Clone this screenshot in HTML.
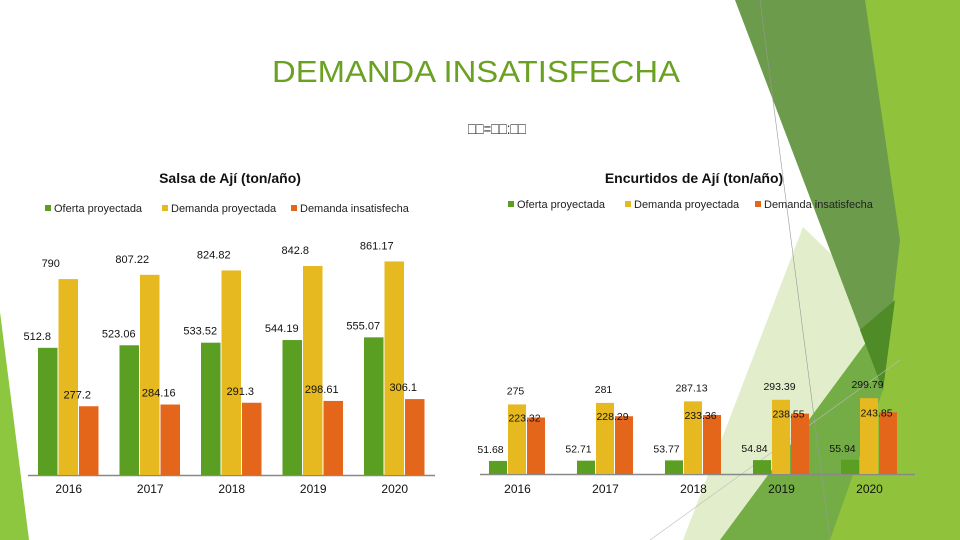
<!DOCTYPE html>
<html><head><meta charset="utf-8"><style>
body{margin:0;width:960px;height:540px;overflow:hidden;background:#fff;font-family:"Liberation Sans",sans-serif;}
svg{position:absolute;left:0;top:0}
</style></head><body>
<svg width="960" height="540">
<g>
<polygon points="803,227 910,330 740,540 683,540" fill="#e2eecb"/>
<polygon points="873,333 960,250 960,540 720,540" fill="#74ad45"/>
<polygon points="860,0 960,0 960,540 830,540 883,390" fill="#91c23b"/>
<polygon points="735,0 865,0 900,240 883,390" fill="#6b9b4b"/>
<polygon points="860,330 895,300 883,390" fill="#4f8b27"/>
<line x1="760" y1="0" x2="830" y2="540" stroke="#999" stroke-width="0.6"/>
<line x1="650" y1="540" x2="900" y2="360" stroke="#bbb" stroke-width="0.6"/>
<polygon points="0,312 0,540 29,540" fill="#8dc63f"/>
</g>
<text x="272" y="82" textLength="408" lengthAdjust="spacingAndGlyphs" font-size="31" fill="#6aa121">DEMANDA INSATISFECHA</text>
<text x="468" y="134" textLength="58" lengthAdjust="spacingAndGlyphs" font-size="16" fill="#333">□□=□□:□□</text>
<g id="c1"></g><g id="c2"></g>
</svg>
<script>
const years=["2016","2017","2018","2019","2020"];
const salsaOferta=[512.8,523.06,533.52,544.19,555.07];
const salsaDemanda=[790,807.22,824.82,842.8,861.17];
const salsaInsat=[277.2,284.16,291.3,298.61,306.1];
const encOferta=[51.68,52.71,53.77,54.84,55.94];
const encDemanda=[275,281,287.13,293.39,299.79];
const encInsat=[223.32,228.29,233.36,238.55,243.85];
const colors=["#5a9e22","#e6b921","#e3661b"];
const NS="http://www.w3.org/2000/svg";
function mk(tag,attrs,parent){const e=document.createElementNS(NS,tag);for(const k in attrs)e.setAttribute(k,attrs[k]);parent.appendChild(e);return e;}
function chart(g,o){
  const y=v=>o.base-v*o.scale;
  let t=mk('text',{x:o.titleX,y:183,'text-anchor':'middle','font-size':14,'font-weight':'bold',fill:'#111'},g);t.textContent=o.title;
  
  
  const names=["Oferta proyectada","Demanda proyectada","Demanda insatisfecha"];
  o.legX.forEach((lx,i)=>{
    const r=mk('rect',{x:lx,y:o.legY-6,width:6,height:6,fill:colors[i]},g);
    
    
    const tx=mk('text',{x:lx+9,y:o.legY+1,'font-size':11,fill:'#222'},g);tx.textContent=names[i];
    
    
  });
  const ax=mk('line',{x1:o.ax0,x2:o.ax1,y1:o.base+0.5,y2:o.base+0.5,stroke:'#888','stroke-width':1.5},g);
  
  
  const series=[o.a,o.b,o.c];
  years.forEach((yr,i)=>{
    const gx=o.x0+i*o.step;
    series.forEach((s,j)=>{
      const bx=gx+j*o.bw;
      const r=mk('rect',{x:bx,y:y(s[i]),width:o.bw-1,height:o.base-y(s[i]),fill:colors[j]},g);
      
      
      const l=mk('text',{x:bx+o.bw/2+o.lo[j],y:y(s[i])-o.ly[j],'text-anchor':'middle','font-size':o.fs,fill:'#111'},g);
      l.textContent=String(s[i]);
      
      
    });
    const xl=mk('text',{x:gx+o.bw*1.5,y:493,'text-anchor':'middle','font-size':12,fill:'#111'},g);xl.textContent=yr;
    
    
  });
}
chart(document.getElementById('c1'),{title:"Salsa de Ají (ton/año)",titleX:230,legX:[45,162,291],legY:211,
  base:475,scale:0.248,x0:38,step:81.5,bw:20.5,ax0:28,ax1:435,a:salsaOferta,b:salsaDemanda,c:salsaInsat,fs:11,lo:[-11,-18,-12],ly:[8,12,8]});
chart(document.getElementById('c2'),{title:"Encurtidos de Ají (ton/año)",titleX:694,legX:[508,625,755],legY:207,
  base:474,scale:0.253,x0:489,step:88,bw:19,ax0:480,ax1:915,a:encOferta,b:encDemanda,c:encInsat,fs:10.5,lo:[-8,-2,-12],ly:[8,10,-4]});
</script>
</body></html>
